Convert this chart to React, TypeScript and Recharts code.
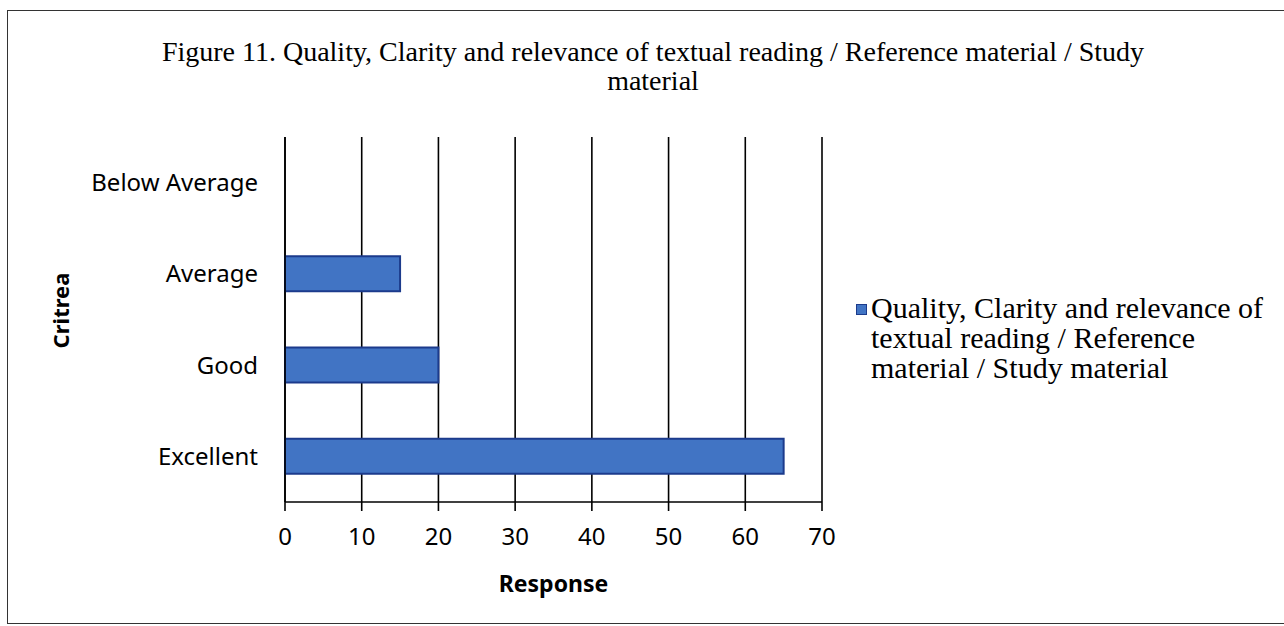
import React from 'react'
import { Bar, BarChart, CartesianGrid, XAxis, YAxis } from 'recharts'

const categories = ['Below Average', 'Average', 'Good', 'Excellent']
const responses = [0, 15, 20, 65]
const xTicks = [0, 10, 20, 30, 40, 50, 60, 70]

const legendLines = ['Quality, Clarity and relevance of', 'textual reading / Reference', 'material / Study material']
const seriesName = legendLines.join(' ')

const data = categories.map((name, i) => ({ name, value: responses[i] }))

const sans = '"Noto Sans", "Open Sans", sans-serif'
const serif = '"Liberation Serif", "DejaVu Serif", serif'

const barFill = '#4174c4'
const barEdge = '#1c3b8c'

// legend sits to the right of the plot, text wraps over three lines
const LegendBox = () => (
  <div
    style={{
      position: 'absolute',
      left: 856,
      top: 293,
      display: 'flex',
      fontFamily: serif,
      fontSize: 30,
      lineHeight: '30px',
      color: '#000',
    }}
  >
    <div
      style={{
        width: 9,
        height: 9,
        marginTop: 11,
        marginRight: 4,
        background: barFill,
        border: `1px solid ${barEdge}`,
        flexShrink: 0,
      }}
    />
    <div style={{ whiteSpace: 'nowrap' }}>
      {legendLines.map((l) => (
        <div key={l}>{l}</div>
      ))}
    </div>
  </div>
)

const YTitle = (props: any) => {
  const vb = props.viewBox || { y: 0, height: 0 }
  const cy = vb.y + vb.height / 2 - 9
  return (
    <text
      x={60}
      y={cy}
      transform={`rotate(-90 60 ${cy})`}
      textAnchor="middle"
      dominantBaseline="central"
      fill="#000"
      fontFamily={sans}
      fontSize={22}
      fontWeight={700}
    >
      Critrea
    </text>
  )
}

export default function App() {
  return (
    <div style={{ position: 'absolute', left: 0, top: 0, width: 1284, height: 626, background: '#fff', overflow: 'hidden' }}>
      <div
        style={{
          position: 'absolute',
          left: 7,
          top: 10,
          width: 1300,
          height: 614,
          border: '1.5px solid #333',
          boxSizing: 'border-box',
        }}
      />
      <div
        style={{
          position: 'absolute',
          left: 0,
          top: 37,
          width: 1306,
          textAlign: 'center',
          fontFamily: serif,
          fontSize: 28,
          lineHeight: '29px',
          color: '#000',
        }}
      >
        Figure 11. Quality, Clarity and relevance of textual reading / Reference material / Study
        <br />
        material
      </div>
      <BarChart
        width={1284}
        height={626}
        data={data}
        layout="vertical"
        margin={{ top: 137, right: 462, bottom: 34, left: 0 }}
        style={{ position: 'absolute', left: 0, top: 0 }}
      >
        <CartesianGrid horizontal={false} vertical stroke="#000" strokeWidth={1.6} />
        <XAxis
          type="number"
          domain={[0, 70]}
          ticks={xTicks}
          interval={0}
          height={90}
          axisLine={{ stroke: '#000', strokeWidth: 1.6 }}
          tickLine={{ stroke: '#000', strokeWidth: 1.6 }}
          tickSize={9}
          tickMargin={17}
          tick={{ fill: '#000', fontFamily: sans, fontSize: 24 }}
          label={{
            value: 'Response',
            position: 'insideBottom',
            offset: 0,
            fill: '#000',
            fontFamily: sans,
            fontSize: 23,
            fontWeight: 700,
          }}
        />
        <YAxis
          type="category"
          dataKey="name"
          width={285}
          axisLine={{ stroke: '#000', strokeWidth: 1.6 }}
          tickLine={false}
          tickSize={0}
          tickMargin={27}
          tick={{ fill: '#000', fontFamily: sans, fontSize: 24 }}
          label={<YTitle />}
        />
        <Bar
          dataKey="value"
          name={seriesName}
          fill={barFill}
          stroke={barEdge}
          strokeWidth={2}
          barSize={35}
          isAnimationActive={false}
        />
      </BarChart>
      <LegendBox />
    </div>
  )
}
